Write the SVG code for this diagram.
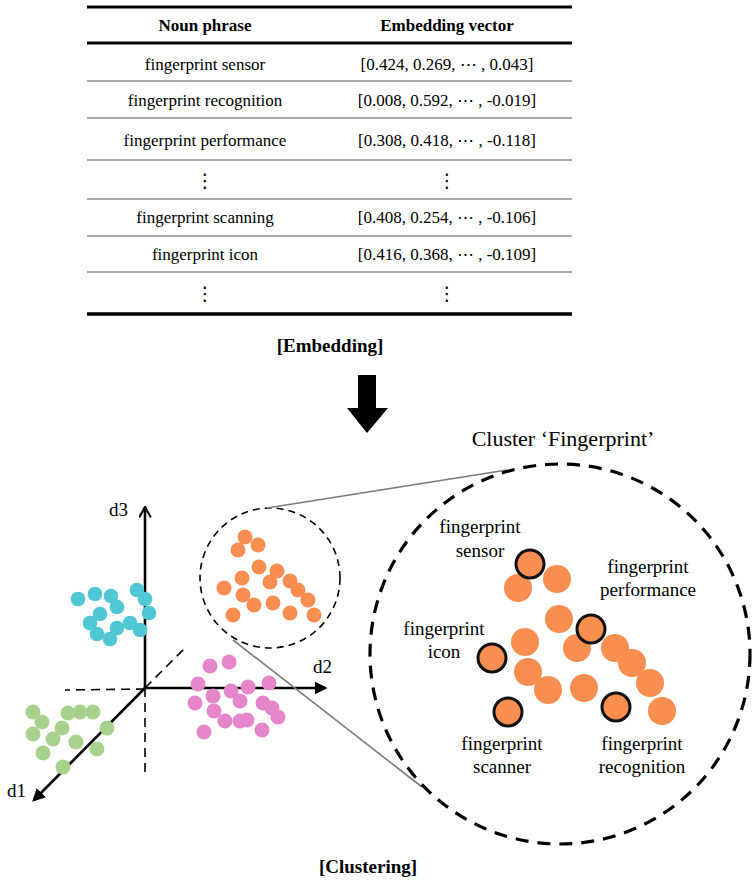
<svg xmlns="http://www.w3.org/2000/svg" width="756" height="886" viewBox="0 0 756 886">
<style>
.t{font-family:"Liberation Serif","Times New Roman",serif;fill:#000}
.th{font-size:17px;font-weight:bold;text-anchor:middle}
.td{font-size:17px;text-anchor:middle}
.dots{font-family:"DejaVu Sans",sans-serif;font-size:19px;text-anchor:middle}
.cap{font-size:19px;font-weight:bold;text-anchor:middle}
.lbl{font-size:19px;text-anchor:middle}
.ax{font-size:19px}
.thick{stroke:#000;stroke-width:3}
.thin{stroke:#555;stroke-width:1.2}
.cy{fill:#4FC8D4}
.gr{fill:#A9D18E}
.pk{fill:#E586CB}
.or{fill:#F88E4F}
.hl{fill:#F88E4F;stroke:#111;stroke-width:3}
.axis{stroke:#000;stroke-width:2.6;fill:none}
.dash{stroke:#000;stroke-width:1.6;stroke-dasharray:9 6;fill:none}
.zoomline{stroke:#7a7a7a;stroke-width:1.6;fill:none}
</style>
<defs>
<marker id="tri" viewBox="0 0 10 10" refX="8" refY="5" markerWidth="5" markerHeight="5" orient="auto" markerUnits="strokeWidth">
<path d="M0,0 L10,5 L0,10 z" fill="#000"/>
</marker>
<marker id="chev" viewBox="0 0 10 10" refX="9" refY="5" markerWidth="5" markerHeight="5" orient="auto" markerUnits="strokeWidth">
<path d="M1,0.5 L9,5 L1,9.5" fill="none" stroke="#000" stroke-width="1.6"/>
</marker>
</defs>

<g id="table">
<line class="thick" x1="87" y1="7" x2="572" y2="7"/>
<line class="thick" x1="87" y1="43" x2="572" y2="43"/>
<line class="thin" x1="87" y1="81" x2="572" y2="81"/>
<line class="thin" x1="87" y1="118" x2="572" y2="118"/>
<line class="thin" x1="87" y1="160" x2="572" y2="160"/>
<line class="thin" x1="87" y1="199" x2="572" y2="199"/>
<line class="thin" x1="87" y1="236" x2="572" y2="236"/>
<line class="thin" x1="87" y1="272" x2="572" y2="272"/>
<line stroke="#000" stroke-width="3.5" x1="87" y1="314" x2="572" y2="314"/>
<text class="t th" x="205" y="31">Noun phrase</text>
<text class="t th" x="447" y="31">Embedding vector</text>
<text class="t td" x="205" y="70">fingerprint sensor</text>
<text class="t td" x="447" y="70">[0.424, 0.269, ⋯ , 0.043]</text>
<text class="t td" x="205" y="106">fingerprint recognition</text>
<text class="t td" x="447" y="106">[0.008, 0.592, ⋯ , -0.019]</text>
<text class="t td" x="205" y="146">fingerprint performance</text>
<text class="t td" x="447" y="146">[0.308, 0.418, ⋯ , -0.118]</text>
<text class="t dots" x="205" y="187">⋮</text>
<text class="t dots" x="447" y="187">⋮</text>
<text class="t td" x="205" y="223">fingerprint scanning</text>
<text class="t td" x="447" y="223">[0.408, 0.254, ⋯ , -0.106]</text>
<text class="t td" x="205" y="260">fingerprint icon</text>
<text class="t td" x="447" y="260">[0.416, 0.368, ⋯ , -0.109]</text>
<text class="t dots" x="205" y="300">⋮</text>
<text class="t dots" x="447" y="300">⋮</text>
</g>

<g id="embedding-caption">
<text class="t cap" x="330" y="352">[Embedding]</text>
</g>

<g id="down-arrow">
<path d="M358,375 L376,375 L376,408 L388,408 L367,433 L347,408 L358,408 z" fill="#000"/>
</g>

<g id="axes">
<line class="axis" x1="145" y1="688" x2="145" y2="507" marker-end="url(#chev)"/>
<line class="axis" x1="145" y1="688" x2="325" y2="688" marker-end="url(#tri)"/>
<line class="axis" x1="145" y1="688" x2="34" y2="800" marker-end="url(#tri)"/>
<line class="dash" x1="145" y1="689" x2="65" y2="690"/>
<line class="dash" x1="145" y1="688" x2="145" y2="778"/>
<line class="dash" x1="145" y1="688" x2="185" y2="648"/>
<text class="t ax" x="128" y="516" text-anchor="end">d3</text>
<text class="t ax" x="313" y="673">d2</text>
<text class="t ax" x="7" y="797">d1</text>
</g>

<g id="cluster-cyan" class="cy">
<circle cx="78" cy="599" r="7.3"/><circle cx="95" cy="594" r="7.3"/><circle cx="111" cy="596" r="7.3"/>
<circle cx="117" cy="607" r="7.3"/><circle cx="137" cy="590" r="7.3"/><circle cx="145" cy="599" r="7.3"/>
<circle cx="149" cy="613" r="7.3"/><circle cx="100" cy="614" r="7.3"/><circle cx="90" cy="623" r="7.3"/>
<circle cx="130" cy="623" r="7.3"/><circle cx="117" cy="628" r="7.3"/><circle cx="140" cy="630" r="7.3"/>
<circle cx="97" cy="634" r="7.3"/><circle cx="110" cy="639" r="7.3"/>
</g>

<g id="cluster-green" class="gr">
<circle cx="33" cy="712" r="7.5"/><circle cx="42" cy="722" r="7.5"/><circle cx="68" cy="713" r="7.5"/>
<circle cx="80" cy="712" r="7.5"/><circle cx="93" cy="712" r="7.5"/><circle cx="62" cy="728" r="7.5"/>
<circle cx="33" cy="734" r="7.5"/><circle cx="53" cy="739" r="7.5"/><circle cx="107" cy="728" r="7.5"/>
<circle cx="76" cy="742" r="7.5"/><circle cx="43" cy="753" r="7.5"/><circle cx="97" cy="749" r="7.5"/>
<circle cx="63" cy="767" r="7.5"/>
</g>

<g id="cluster-pink" class="pk">
<circle cx="210" cy="666" r="7.5"/><circle cx="229" cy="662" r="7.5"/><circle cx="198" cy="684" r="7.5"/>
<circle cx="213" cy="696" r="7.5"/><circle cx="231" cy="691" r="7.5"/><circle cx="248" cy="687" r="7.5"/>
<circle cx="269" cy="683" r="7.5"/><circle cx="195" cy="703" r="7.5"/><circle cx="240" cy="701" r="7.5"/>
<circle cx="214" cy="711" r="7.5"/><circle cx="263" cy="703" r="7.5"/><circle cx="272" cy="708" r="7.5"/>
<circle cx="225" cy="721" r="7.5"/><circle cx="240" cy="721" r="7.5"/><circle cx="247" cy="720" r="7.5"/>
<circle cx="278" cy="717" r="7.5"/><circle cx="204" cy="732" r="7.5"/><circle cx="262" cy="730" r="7.5"/>
</g>

<g id="cluster-orange">
<circle cx="270" cy="578" r="70" fill="none" stroke="#000" stroke-width="1.6" stroke-dasharray="7 5"/>
<g class="or">
<circle cx="245" cy="537" r="7.5"/><circle cx="238" cy="550" r="7.5"/><circle cx="258" cy="545" r="7.5"/>
<circle cx="259" cy="567" r="7.5"/><circle cx="277" cy="571" r="7.5"/><circle cx="242" cy="578" r="7.5"/>
<circle cx="270" cy="582" r="7.5"/><circle cx="290" cy="581" r="7.5"/><circle cx="224" cy="588" r="7.5"/>
<circle cx="298" cy="590" r="7.5"/><circle cx="243" cy="595" r="7.5"/><circle cx="308" cy="600" r="7.5"/>
<circle cx="254" cy="605" r="7.5"/><circle cx="273" cy="603" r="7.5"/><circle cx="233" cy="615" r="7.5"/>
<circle cx="290" cy="613" r="7.5"/><circle cx="314" cy="615" r="7.5"/>
</g>
</g>

<g id="connectors">
<line class="zoomline" x1="267" y1="508" x2="507" y2="470"/>
<line class="zoomline" x1="233" y1="640" x2="422" y2="787"/>
</g>

<g id="cluster-fingerprint">
<circle cx="560" cy="654" r="190" fill="none" stroke="#000" stroke-width="3.2" stroke-dasharray="13 9"/>
<text class="t" x="563" y="446" font-size="22" text-anchor="middle">Cluster ‘Fingerprint’</text>
<g class="or">
<circle cx="518" cy="588" r="14"/><circle cx="557" cy="579" r="14"/><circle cx="559" cy="619" r="14"/>
<circle cx="525" cy="642" r="14"/><circle cx="577" cy="648" r="14"/><circle cx="615" cy="648" r="14"/>
<circle cx="632" cy="663" r="14"/><circle cx="650" cy="683" r="14"/><circle cx="528" cy="672" r="14"/>
<circle cx="548" cy="690" r="14"/><circle cx="584" cy="688" r="14"/><circle cx="662" cy="711" r="14"/>
</g>
<g id="p-sensor"><circle class="hl" cx="530" cy="564" r="14"/>
<text class="t lbl" x="480" y="533">fingerprint</text><text class="t lbl" x="480" y="557">sensor</text></g>
<g id="p-performance"><circle class="hl" cx="591" cy="629" r="14"/>
<text class="t lbl" x="648" y="573">fingerprint</text><text class="t lbl" x="648" y="596">performance</text></g>
<g id="p-icon"><circle class="hl" cx="492" cy="658" r="14"/>
<text class="t lbl" x="444" y="635">fingerprint</text><text class="t lbl" x="444" y="658">icon</text></g>
<g id="p-scanner"><circle class="hl" cx="508" cy="712" r="14"/>
<text class="t lbl" x="502" y="750">fingerprint</text><text class="t lbl" x="502" y="773">scanner</text></g>
<g id="p-recognition"><circle class="hl" cx="616" cy="707" r="14"/>
<text class="t lbl" x="642" y="750">fingerprint</text><text class="t lbl" x="642" y="773">recognition</text></g>
</g>

<g id="clustering-caption">
<text class="t cap" x="368" y="873">[Clustering]</text>
</g>
</svg>
